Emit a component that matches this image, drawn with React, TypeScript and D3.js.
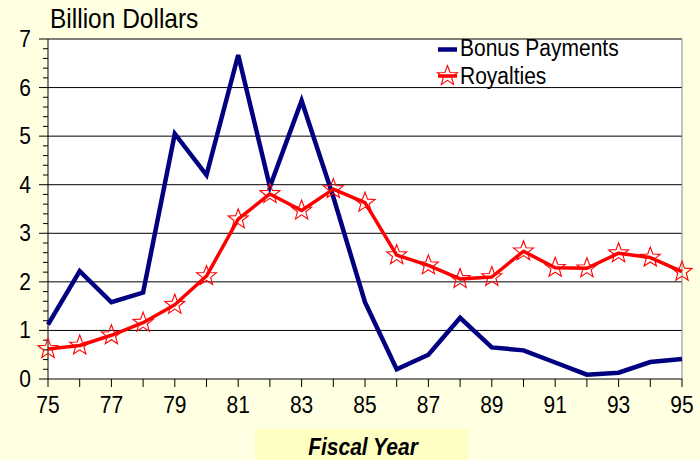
import React from "react";
import * as d3 from "d3";

const years = [75, 76, 77, 78, 79, 80, 81, 82, 83, 84, 85, 86, 87, 88, 89, 90, 91, 92, 93, 94, 95];
const bonusPayments = [1.12, 2.22, 1.58, 1.78, 5.05, 4.2, 6.67, 3.96, 5.73, 3.75, 1.58, 0.2, 0.5, 1.26, 0.65, 0.59, 0.34, 0.09, 0.13, 0.35, 0.41];
const royalties = [0.62, 0.69, 0.9, 1.16, 1.53, 2.12, 3.29, 3.81, 3.47, 3.91, 3.63, 2.55, 2.34, 2.06, 2.1, 2.63, 2.29, 2.28, 2.59, 2.5, 2.21];
const yTicks = [0, 1, 2, 3, 4, 5, 6, 7];
const xLabels = [75, 77, 79, 81, 83, 85, 87, 89, 91, 93, 95];
const seriesNames = ["Bonus Payments", "Royalties"];
const yTitle = "Billion Dollars";
const xTitle = "Fiscal Year";

const W = 700;
const H = 460;
const left = 48;
const right = 682;
const top = 39;
const bottom = 379;
const FONT = "Arial, 'Liberation Sans', sans-serif";
const SY = 1.12;

function starPath(cx: number, cy: number, R: number, r: number) {
  const pts: [number, number][] = [];
  for (let i = 0; i < 10; i++) {
    const a = -Math.PI / 2 + (i * Math.PI) / 5;
    const rad = i % 2 === 0 ? R : r;
    pts.push([cx + rad * Math.cos(a), cy + rad * Math.sin(a)]);
  }
  return "M" + pts.map((p) => p[0].toFixed(2) + "," + p[1].toFixed(2)).join("L") + "Z";
}

function T(props: { x: number; y: number; size: number; anchor?: string; bold?: boolean; italic?: boolean; children: any }) {
  return (
    <text
      transform={`translate(${props.x},${props.y}) scale(1,${SY})`}
      fontSize={props.size}
      textAnchor={props.anchor || "start"}
      fontWeight={props.bold ? "bold" : "normal"}
      fontStyle={props.italic ? "italic" : "normal"}
      fill="#000"
    >
      {props.children}
    </text>
  );
}

export default function App() {
  const x = d3.scaleLinear().domain([75, 95]).range([left, right]);
  const y = d3.scaleLinear().domain([0, 7]).range([bottom, top]);
  const line = d3
    .line<number>()
    .x((_, i) => x(years[i]))
    .y((d) => y(d));
  const minor = d3.range(0, 7.0001, 0.2).filter((v) => Math.abs(v - Math.round(v)) > 1e-6);

  return (
    <svg width={W} height={H} style={{ position: "absolute", left: 0, top: 0 }} fontFamily={FONT}>
      <rect x={0} y={0} width={W} height={H} fill="#FFFFE1" />
      <rect x={255} y={429} width={213} height={31} fill="#FFFFC4" />
      <rect x={left} y={top} width={right - left} height={bottom - top} fill="#ffffff" />
      {yTicks.filter((t) => t > 0).map((t) => (
        <line key={"g" + t} x1={left} x2={right} y1={y(t)} y2={y(t)} stroke="#000" strokeWidth={1} />
      ))}
      <line x1={right} x2={right} y1={top} y2={bottom} stroke="#888" strokeWidth={1} />
      {/* y axis */}
      <line x1={left} x2={left} y1={top} y2={bottom} stroke="#000" strokeWidth={1} />
      {yTicks.map((t) => (
        <g key={"yt" + t}>
          <line x1={left - 9} x2={left} y1={y(t)} y2={y(t)} stroke="#000" />
          <T x={31} y={y(t) + 8} size={21} anchor="end">
            {t}
          </T>
        </g>
      ))}
      {minor.map((t, i) => (
        <line key={"m" + i} x1={left - 5} x2={left} y1={y(t)} y2={y(t)} stroke="#000" />
      ))}
      {/* x axis */}
      <line x1={left} x2={right} y1={bottom} y2={bottom} stroke="#000" />
      {years.map((yr) => (
        <line key={"xt" + yr} x1={x(yr)} x2={x(yr)} y1={bottom} y2={bottom + 8} stroke="#000" />
      ))}
      {xLabels.map((yr) => (
        <T key={"xl" + yr} x={x(yr)} y={412.5} size={21} anchor="middle">
          {yr}
        </T>
      ))}
      {/* series */}
      <path d={line(bonusPayments) || ""} fill="none" stroke="#000080" strokeWidth={4.5} strokeLinejoin="miter" />
      <path d={line(royalties) || ""} fill="none" stroke="#FF0000" strokeWidth={3.5} strokeLinejoin="round" />
      {royalties.map((v, i) => (
        <path key={"s" + i} d={starPath(x(years[i]), y(v), 10.5, 4.4)} fill="none" stroke="#FF0000" strokeWidth={1.1} />
      ))}
      {/* titles */}
      <T x={50} y={28} size={24.5}>
        {yTitle}
      </T>
      <T x={363} y={455} size={21} anchor="middle" bold italic>
        {xTitle}
      </T>
      {/* legend */}
      <line x1={438} x2={457} y1={49.5} y2={49.5} stroke="#000080" strokeWidth={4.5} />
      <T x={460} y={56} size={21}>
        {seriesNames[0]}
      </T>
      <line x1={438} x2={457} y1={76} y2={76} stroke="#FF0000" strokeWidth={3.5} />
      <path d={starPath(447.5, 76, 10.5, 4.4)} fill="none" stroke="#FF0000" strokeWidth={1.1} />
      <T x={460} y={83.5} size={21}>
        {seriesNames[1]}
      </T>
    </svg>
  );
}
